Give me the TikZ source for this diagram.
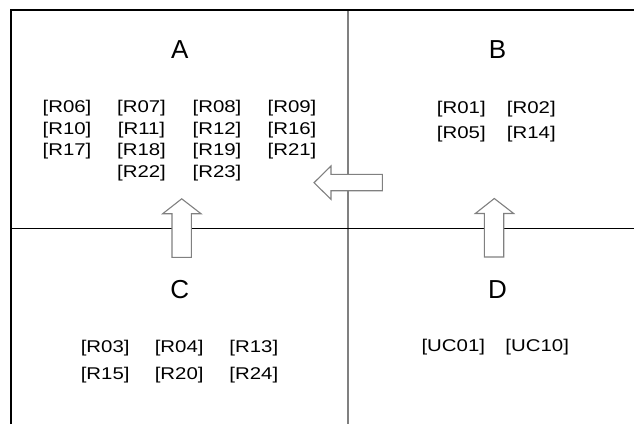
\documentclass[tikz,border=0pt]{standalone}
\usepackage{fontspec}
\setmainfont{Liberation Sans}
\newfontfamily\lblfont[FakeStretch=1.2]{Liberation Sans}
\begin{document}
\begin{tikzpicture}[x=1pt,y=-1pt,
  quad/.style={inner sep=0pt,font=\fontsize{26}{28}\selectfont},
  req/.style={inner sep=0pt,font=\lblfont\fontsize{17}{19}\selectfont},
  blockarrow/.style={draw=black!50,line width=1.1pt,fill=white,line join=miter},
  frame/.style={draw=black,line width=2.4pt},
  vdiv/.style={draw=black!50,line width=2pt},
  hdiv/.style={draw=black,line width=1pt}]
\useasboundingbox (0,0) rectangle (634,424);
% dividers
\coordinate (tl) at (11,10);
\coordinate (tr) at (634,10);
\coordinate (bl) at (11,424);
\coordinate (vt) at (348.3,10);
\coordinate (vb) at (348.3,424);
\coordinate (hl) at (11,228.2);
\coordinate (hr) at (634,228.2);
\draw[vdiv] (vt) -- (vb);
\draw[hdiv] (hl) -- (hr);
\draw[frame] (bl) -- (tl) -- (tr);
% quadrant titles
\node[quad] (A) at (179.7,49.2) {A};
\node[quad] (B) at (497.5,49.2) {B};
\node[quad] (C) at (179.7,289.5) {C};
\node[quad] (D) at (497.5,289.2) {D};
% A
\node[req] (r06) at (67,108.3) {[R06]};
\node[req] (r07) at (141.5,108.3) {[R07]};
\node[req] (r08) at (217,108.3) {[R08]};
\node[req] (r09) at (292,108.3) {[R09]};
\node[req] (r10) at (67,129.8) {[R10]};
\node[req] (r11) at (141.5,129.8) {[R11]};
\node[req] (r12) at (217,129.8) {[R12]};
\node[req] (r16) at (292,129.8) {[R16]};
\node[req] (r17) at (67,151.3) {[R17]};
\node[req] (r18) at (141.5,151.3) {[R18]};
\node[req] (r19) at (217,151.3) {[R19]};
\node[req] (r21) at (292,151.3) {[R21]};
\node[req] (r22) at (141.5,172.8) {[R22]};
\node[req] (r23) at (217,172.8) {[R23]};
% B
\node[req] (r01) at (461.3,109.2) {[R01]};
\node[req] (r02) at (531.3,109.2) {[R02]};
\node[req] (r05) at (461.3,134.2) {[R05]};
\node[req] (r14) at (531.3,134.2) {[R14]};
% C
\node[req] (r03) at (105.2,348.3) {[R03]};
\node[req] (r04) at (179.2,348.3) {[R04]};
\node[req] (r13) at (253.8,348.3) {[R13]};
\node[req] (r15) at (105.2,375) {[R15]};
\node[req] (r20) at (179.2,375) {[R20]};
\node[req] (r24) at (253.8,375) {[R24]};
% D
\node[req] (uc01) at (453.3,347) {[UC01]};
\node[req] (uc10) at (537.2,347) {[UC10]};
% block arrows
\draw[blockarrow] (382.3,174.3) -- (331,174.3) -- (331,166) -- (314,182.7)
  -- (331,199.3) -- (331,190.7) -- (382.3,190.7) -- cycle;
\draw[blockarrow] (172,257.3) -- (172,213.7) -- (162.7,213.7) -- (181.7,198.8)
  -- (201,213.7) -- (191.3,213.7) -- (191.3,257.3) -- cycle;
\draw[blockarrow] (484.3,257) -- (484.3,213.5) -- (475.3,213.5) -- (494.3,198.5)
  -- (513.7,213.5) -- (503.7,213.5) -- (503.7,257) -- cycle;
\end{tikzpicture}
\end{document}
